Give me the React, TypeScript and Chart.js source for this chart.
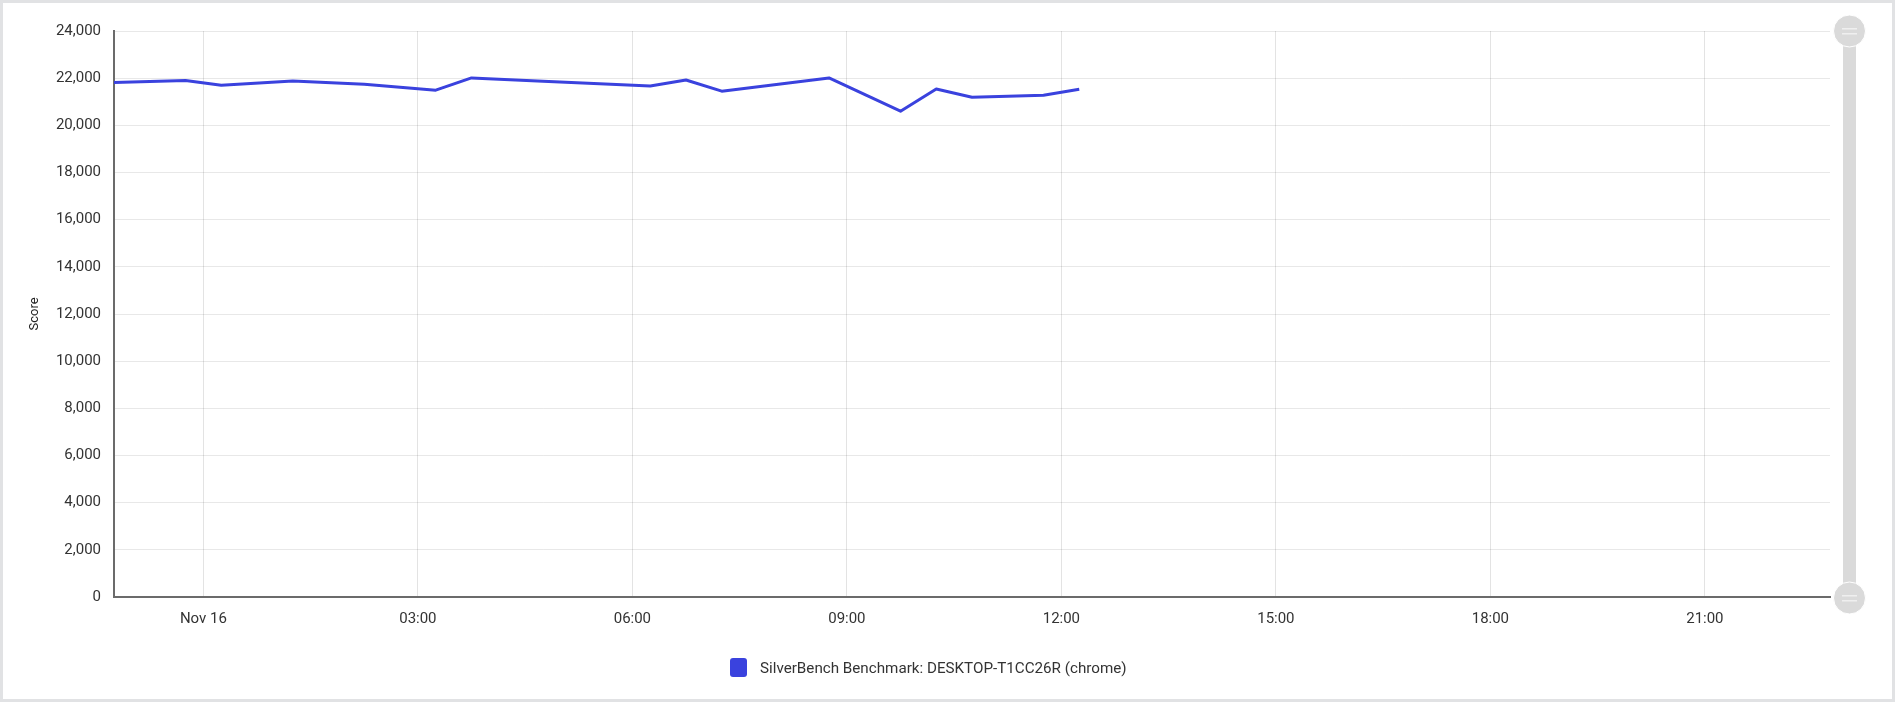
import React, { useEffect, useRef } from "react";
import { Chart, registerables } from "chart.js";

Chart.register(...registerables);

const seriesLabel = "SilverBench Benchmark: DESKTOP-T1CC26R (chrome)";
const runTimes = [
  "2023-11-15T22:45", "2023-11-15T23:45", "2023-11-16T00:15", "2023-11-16T01:15",
  "2023-11-16T02:15", "2023-11-16T03:15", "2023-11-16T03:45", "2023-11-16T04:45",
  "2023-11-16T06:15", "2023-11-16T06:45", "2023-11-16T07:15", "2023-11-16T08:45",
  "2023-11-16T09:45", "2023-11-16T10:15", "2023-11-16T10:45", "2023-11-16T11:45",
  "2023-11-16T12:15",
];
const scores = [
  21820, 21900, 21700, 21880, 21740, 21490, 22010, 21870,
  21670, 21920, 21450, 22010, 20600, 21540, 21190, 21280, 21530,
];
const axisStart = "2023-11-15T22:45";
const axisEnd = "2023-11-16T22:45";
const dayStart = "2023-11-16T00:00";
const dayLabel = "Nov 16";
const tickHours = [0, 3, 6, 9, 12, 15, 18, 21];
const yMin = 0;
const yMax = 24000;
const yStep = 2000;
const yTitle = "Score";

const lineColor = "rgb(58, 66, 222)";

const toHours = (s: string) =>
  (Date.parse(s + ":00Z") - Date.parse(dayStart + ":00Z")) / 3600000;

const sliderPlugin = {
  id: "sliderDecor",
  afterDraw(chart: any) {
    const { ctx, chartArea } = chart;
    const cx = chart.width - 45.5;
    const top = chartArea.top;
    const bottom = chartArea.bottom + 1;
    const r = 16;
    ctx.save();
    ctx.fillStyle = "#dadada";
    ctx.fillRect(cx - 6.5, top, 13, bottom - top);
    [top, bottom].forEach((cy) => {
      ctx.beginPath();
      ctx.arc(cx, cy, r, 0, Math.PI * 2);
      ctx.fillStyle = "#dadada";
      ctx.fill();
      ctx.strokeStyle = "#ffffff";
      ctx.lineWidth = 1;
      ctx.stroke();
      ctx.fillStyle = "#efefef";
      ctx.fillRect(cx - 7.5, cy - 3, 15, 1.5);
      ctx.fillRect(cx - 7.5, cy + 2, 15, 1.5);
    });
    ctx.restore();
  },
};

export default function App() {
  const ref = useRef<HTMLCanvasElement | null>(null);

  useEffect(() => {
    document.body.style.margin = "0";
    if (!ref.current) return;
    Chart.defaults.font.family = "Roboto";
    const chart = new Chart(ref.current, {
      type: "line",
      data: {
        datasets: [
          {
            label: seriesLabel,
            data: runTimes.map((t, i) => ({ x: toHours(t), y: scores[i] })),
            borderColor: lineColor,
            backgroundColor: lineColor,
            borderWidth: 3,
            pointRadius: 0,
            tension: 0,
            borderJoinStyle: "round",
          },
        ],
      },
      options: {
        responsive: false,
        animation: false,
        layout: { padding: { top: 31, right: 65, bottom: 0, left: 0 } },
        plugins: {
          legend: { display: false },
          tooltip: { enabled: false },
        },
        scales: {
          x: {
            type: "linear",
            min: toHours(axisStart),
            max: toHours(axisEnd),
            afterBuildTicks: (s: any) => {
              s.ticks = tickHours.map((h) => ({ value: h }));
            },
            afterFit: (s: any) => {
              s.height = 105;
            },
            ticks: {
              autoSkip: false,
              maxRotation: 0,
              padding: 13,
              color: "#333",
              font: { size: 15 },
              callback: (v: any) => {
                const h = Number(v);
                if (h % 24 === 0) return dayLabel;
                return String(h).padStart(2, "0") + ":00";
              },
            },
            grid: { color: "rgba(0,0,0,0.11)", drawTicks: false },
            border: { color: "#6b6b6b", width: 2 },
          },
          y: {
            min: yMin,
            max: yMax,
            afterFit: (s: any) => {
              s.width = 114;
            },
            ticks: {
              stepSize: yStep,
              padding: 13,
              color: "#333",
              font: { size: 15 },
              callback: (v: any) => Number(v).toLocaleString("en-US"),
            },
            grid: { color: "rgba(0,0,0,0.09)", drawTicks: false },
            border: { color: "#6b6b6b", width: 2 },
            title: {
              display: true,
              text: yTitle,
              color: "#222",
              font: { size: 13 },
              padding: { top: 27, bottom: 0 },
            },
          },
        },
      },
      plugins: [sliderPlugin],
    });
    return () => chart.destroy();
  }, []);

  return (
    <div
      style={{
        position: "relative",
        width: 1895,
        height: 702,
        background: "#e1e2e4",
        fontFamily: "Roboto",
      }}
    >
      <div
        style={{
          position: "absolute",
          left: 3,
          top: 3,
          right: 3,
          bottom: 3,
          background: "#ffffff",
        }}
      />
      <canvas
        ref={ref}
        width={1895}
        height={702}
        style={{ position: "absolute", left: 0, top: 0, width: 1895, height: 702 }}
      />
      <div
        style={{
          position: "absolute",
          left: 730,
          top: 658,
          height: 19,
          display: "flex",
          alignItems: "center",
          whiteSpace: "nowrap",
        }}
      >
        <span
          style={{
            display: "inline-block",
            width: 17,
            height: 19,
            borderRadius: 3,
            background: lineColor,
            marginRight: 13,
          }}
        />
        <span style={{ fontSize: 15.2, color: "#333", fontFamily: "Roboto" }}>{seriesLabel}</span>
      </div>
    </div>
  );
}
